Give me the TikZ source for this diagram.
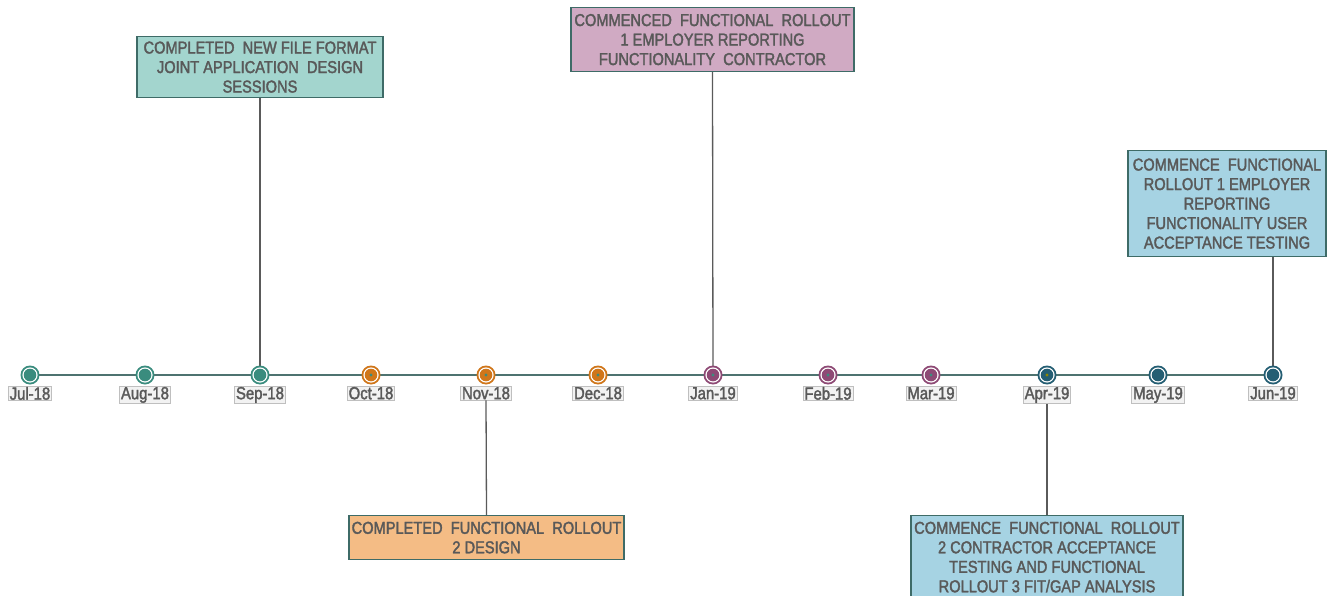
\documentclass[tikz,border=0pt]{standalone}
\usepackage{fontspec}
\setmainfont{Liberation Sans}[FakeStretch=0.85,FakeBold=2]
\begin{document}
\definecolor{axis}{HTML}{4E7370}
\definecolor{conn}{HTML}{5A5A5A}
\definecolor{txt}{HTML}{595959}
\definecolor{cteal}{HTML}{3A8C7E}
\definecolor{corange}{HTML}{D0761A}
\definecolor{cpurple}{HTML}{8E4A75}
\definecolor{cblue}{HTML}{245E73}
\definecolor{fteal}{HTML}{A3D5CE}
\definecolor{fpink}{HTML}{D0AAC3}
\definecolor{fblue}{HTML}{A6D3E3}
\definecolor{forange}{HTML}{F4BC85}
\definecolor{boxedge}{HTML}{3E6B67}
\definecolor{lblfill}{HTML}{F2F2F2}
\definecolor{lbledge}{HTML}{BFBFBF}
\begin{tikzpicture}[x=1pt,y=-1pt,
  callout/.style={draw=boxedge,line width=1.2pt,text=txt,align=center,
    font=\fontsize{17.2}{19.5}\selectfont,inner sep=0pt,anchor=north},
  datelbl/.style={fill=lblfill,draw=lbledge,line width=0.8pt,text=txt,
    font=\fontsize{17.5}{18}\selectfont,inner xsep=1.5pt,inner ysep=0.6pt,anchor=north},
  stem/.style={draw=conn,line width=1.3pt}]
\useasboundingbox (0,0) rectangle (1332,596);
\clip (0,0) rectangle (1332,596);

% timeline axis
\coordinate (start) at (30,375);
\coordinate (end) at (1273,375);
\draw[axis,line width=2pt] (start) -- (end);

% month positions
\foreach \n/\x in {jul/30,aug/145,sep/260,oct/371,nov/486,dec/598,
                   jan/713,feb/828,mar/931,apr/1047,may/1158,jun/1273}
  \coordinate (m-\n) at (\x,375);

% callout boxes
\node[callout,fill=fteal,minimum width=246pt,minimum height=61pt] (bsep) at (260,36)
  {COMPLETED\ \ NEW FILE FORMAT\\JOINT APPLICATION\ \ DESIGN\\SESSIONS};
\node[callout,fill=fpink,minimum width=283pt,minimum height=64pt] (bjan) at (712.5,7)
  {COMMENCED\ \ FUNCTIONAL\ \ ROLLOUT\\1 EMPLOYER REPORTING\\FUNCTIONALITY\ \ CONTRACTOR};
\node[callout,fill=fblue,minimum width=198pt,minimum height=106pt] (bjun) at (1227,150)
  {COMMENCE\ \ FUNCTIONAL\\ROLLOUT 1 EMPLOYER\\REPORTING\\FUNCTIONALITY USER\\ACCEPTANCE TESTING};
\node[callout,fill=forange,minimum width=275pt,minimum height=44pt] (bnov) at (486.5,515)
  {COMPLETED\ \ FUNCTIONAL\ \ ROLLOUT\\2 DESIGN};
\node[callout,fill=fblue,minimum width=272pt,minimum height=83pt] (bapr) at (1047,515)
  {COMMENCE\ \ FUNCTIONAL\ \ ROLLOUT\\2 CONTRACTOR ACCEPTANCE\\TESTING AND FUNCTIONAL\\ROLLOUT 3 FIT/GAP ANALYSIS};

% stems from callouts to the axis
\draw[stem] (bsep.south) -- (m-sep);
\draw[stem] (bjan.south) -- (m-jan);
\draw[stem] (bjun.south -| m-jun) -- (m-jun);

% month markers
\foreach \n/\c/\d in {jul/cteal/cteal,aug/cteal/cteal,sep/cteal/cteal,
                      oct/corange/cteal,nov/corange/cteal,dec/corange/cteal,
                      jan/cpurple/cteal,feb/cpurple/cteal,mar/cpurple/cteal,
                      apr/cblue/olive,may/cblue/cblue,jun/cblue/cblue}{
  \fill[\c] (m-\n) circle (9.5pt);
  \fill[white] (m-\n) circle (7.6pt);
  \fill[\c] (m-\n) circle (6.3pt);
  \fill[\d] (m-\n) circle (1.6pt);
}

% month labels
\foreach \n/\t in {jul/Jul-18,aug/Aug-18,sep/Sep-18,oct/Oct-18,nov/Nov-18,dec/Dec-18,
                   jan/Jan-19,feb/Feb-19,mar/Mar-19,apr/Apr-19,may/May-19,jun/Jun-19}
  \node[datelbl] (l-\n) at ([yshift=-11pt]m-\n) {\t};

% stems from the axis labels down to callouts
\draw[stem] (l-nov.south) -- (bnov.north);
\draw[stem] (l-apr.south) -- (bapr.north);
\end{tikzpicture}
\end{document}
